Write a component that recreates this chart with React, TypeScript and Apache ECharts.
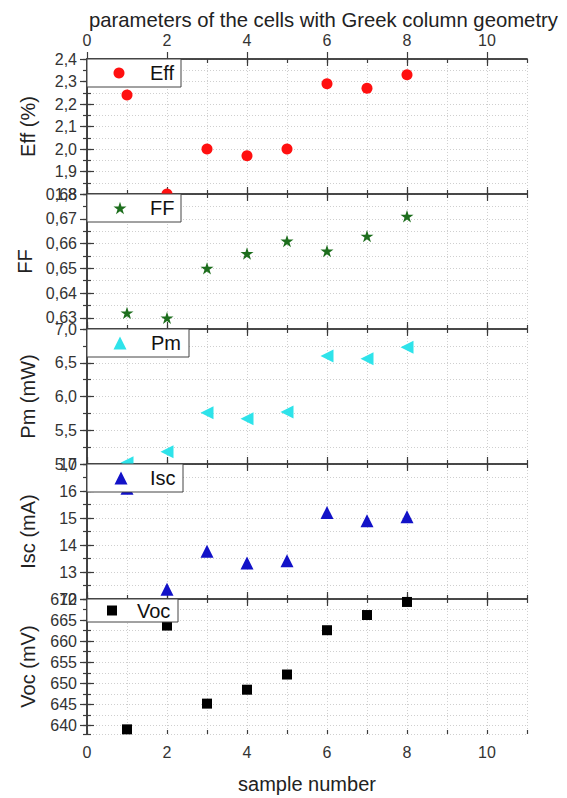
import React, { useEffect, useRef } from "react";
import * as echarts from "echarts";

// ---------- data ----------
const sampleNumbers = [1, 2, 3, 4, 5, 6, 7, 8];
const effValues = [2.24, 1.8, 2.0, 1.97, 2.0, 2.29, 2.27, 2.33];
const ffValues = [0.632, 0.63, 0.65, 0.656, 0.661, 0.657, 0.663, 0.671];
const pmValues = [5.02, 5.18, 5.76, 5.67, 5.77, 6.6, 6.56, 6.73];
const iscValues = [16.1, 12.36, 13.77, 13.33, 13.42, 15.2, 14.9, 15.05];
const vocValues = [639.1, 663.7, 645.2, 648.5, 652.1, 662.6, 666.2, 669.3];

const xTickLabels = [0, 2, 4, 6, 8, 10];
const effTicks = [1.8, 1.9, 2.0, 2.1, 2.2, 2.3, 2.4];
const ffTicks = [0.63, 0.64, 0.65, 0.66, 0.67, 0.68];
const pmTicks = [5.0, 5.5, 6.0, 6.5, 7.0];
const iscTicks = [12, 13, 14, 15, 16, 17];
const vocTicks = [640, 645, 650, 655, 660, 665, 670];

const chartTitle = "parameters of the cells with Greek column geometry";
const xName = "sample number";

// ---------- layout / style ----------
const FONT = "Liberation Sans, Arial, sans-serif";
const STAR =
  "path://M50,0 L61.2,34.5 L97.6,34.5 L68.2,55.9 L79.4,90.5 L50,69.1 L20.6,90.5 L31.8,55.9 L2.4,34.5 L38.8,34.5 Z";
const GRID_LEFT = 87;
const GRID_W = 440;
const TOP0 = 59;
const PANEL_H = 135;
const AXIS_COLOR = "#3c3c3c";
const GRID_COLOR = "#cfcfcf";

const panels = [
  { name: "Eff", axisName: "Eff (%)", values: effValues, ticks: effTicks, min: 1.8, max: 2.4, minor: 0.05, dec: 1,
    color: "#ff1010", symbol: "circle", size: 11, rotate: 0, boxW: 94, boxH: 28, iconX: 119, textX: 150, icon: 11 },
  { name: "FF", axisName: "FF", values: ffValues, ticks: ffTicks, min: 0.6255, max: 0.68, minor: 0.005, dec: 2,
    color: "#1d6e1d", symbol: STAR, size: 13, rotate: 0, boxW: 94, boxH: 28, iconX: 120, textX: 150, icon: 13 },
  { name: "Pm", axisName: "Pm (mW)", values: pmValues, ticks: pmTicks, min: 5.0, max: 7.0, minor: 0.25, dec: 1,
    color: "#2ee3ea", symbol: "triangle", size: 13, rotate: 90, boxW: 102, boxH: 28, iconX: 120, textX: 151, icon: 13 },
  { name: "Isc", axisName: "Isc (mA)", values: iscValues, ticks: iscTicks, min: 12, max: 17, minor: 0.5, dec: 0,
    color: "#1212c8", symbol: "triangle", size: 13, rotate: 0, boxW: 96, boxH: 28, iconX: 121, textX: 150, icon: 13 },
  { name: "Voc", axisName: "Voc (mV)", values: vocValues, ticks: vocTicks, min: 638, max: 670, minor: 2.5, dec: 0,
    color: "#000000", symbol: "rect", size: 10, rotate: 0, boxW: 91, boxH: 23, iconX: 112, textX: 137, icon: 10 },
];

function fmt(v: number, d: number) {
  return v.toFixed(d).replace(".", ",");
}

function buildOption() {
  const option: any = {
    animation: false,
    backgroundColor: "#ffffff",
    title: {
      text: chartTitle,
      left: 84,
      top: 5,
      textStyle: { fontSize: 20.3, fontWeight: "normal", color: "#222", fontFamily: FONT },
    },
    grid: [],
    xAxis: [],
    yAxis: [],
    series: [],
    legend: [],
    graphic: [],
  };
  const last = panels.length - 1;
  panels.forEach((p, i) => {
    const top = TOP0 + i * PANEL_H;
    option.grid.push({ left: GRID_LEFT, top, width: GRID_W, height: PANEL_H, containLabel: false, outerBoundsMode: "none" });
    const axisLine = { show: true, lineStyle: { color: AXIS_COLOR, width: 1.6 } };
    const tickStyle = { color: AXIS_COLOR, width: 1.2 };
    const labelStyle = { fontSize: 16, color: "#333", fontFamily: FONT };
    // x major bottom
    option.xAxis.push({
      gridIndex: i, type: "value", position: "bottom", min: 0, max: 11,
      axisLine,
      axisTick: { show: true, inside: true, length: 7, customValues: xTickLabels, lineStyle: tickStyle },
      axisLabel: { show: i === last, customValues: xTickLabels, margin: 10, ...labelStyle },
      splitLine: { show: false },
      name: i === last ? xName : "",
      nameLocation: "middle",
      nameGap: 40,
      nameTextStyle: { fontSize: 20, color: "#222", fontFamily: FONT },
    });
    // x major top
    option.xAxis.push({
      gridIndex: i, type: "value", position: "top", min: 0, max: 11,
      axisLine,
      axisTick: { show: true, inside: true, length: 7, customValues: xTickLabels, lineStyle: tickStyle },
      axisLabel: { show: i === 0, customValues: xTickLabels, margin: 11, ...labelStyle },
      splitLine: { show: false },
    });
    // x minor bottom (with grid lines)
    option.xAxis.push({
      gridIndex: i, type: "value", position: "bottom", min: 0, max: 11, interval: 1,
      axisLine: { show: false },
      axisTick: { show: true, inside: true, length: 4, lineStyle: tickStyle },
      axisLabel: { show: false },
      splitLine: { show: true, lineStyle: { color: GRID_COLOR, type: [1, 2], width: 1 } },
    });
    // x minor top
    option.xAxis.push({
      gridIndex: i, type: "value", position: "top", min: 0, max: 11, interval: 1,
      axisLine: { show: false },
      axisTick: { show: true, inside: true, length: 4, lineStyle: tickStyle },
      axisLabel: { show: false },
      splitLine: { show: false },
    });

    const range = Math.round((p.max - p.min) * 1e6) / 1e6;
    // y major left
    option.yAxis.push({
      gridIndex: i, type: "value", position: "left", min: p.min, max: p.max,
      axisLine,
      axisTick: { show: true, inside: true, length: 7, customValues: p.ticks, lineStyle: tickStyle },
      axisLabel: { show: true, customValues: p.ticks, margin: 10, formatter: (v: number) => fmt(v, p.dec), ...labelStyle },
      splitLine: { show: false },
      name: p.axisName,
      nameLocation: "middle",
      nameGap: 49,
      nameRotate: 90,
      nameTextStyle: { fontSize: 20, color: "#222", fontFamily: FONT },
    });
    // y major right
    option.yAxis.push({
      gridIndex: i, type: "value", position: "right", min: p.min, max: p.max,
      axisLine,
      axisTick: { show: true, inside: true, length: 7, customValues: p.ticks, lineStyle: tickStyle },
      axisLabel: { show: false },
      splitLine: { show: false },
    });
    // y minor left (counted from the top so ticks align with round values)
    option.yAxis.push({
      gridIndex: i, type: "value", position: "left", min: 0, max: range, interval: p.minor, inverse: true,
      axisLine: { show: false },
      axisTick: { show: true, inside: true, length: 4, lineStyle: tickStyle },
      axisLabel: { show: false },
      splitLine: { show: true, lineStyle: { color: GRID_COLOR, type: [1, 2], width: 1 } },
    });
    // y minor right
    option.yAxis.push({
      gridIndex: i, type: "value", position: "right", min: 0, max: range, interval: p.minor, inverse: true,
      axisLine: { show: false },
      axisTick: { show: true, inside: true, length: 4, lineStyle: tickStyle },
      axisLabel: { show: false },
      splitLine: { show: false },
    });

    option.series.push({
      type: "scatter",
      name: p.name,
      xAxisIndex: 4 * i,
      yAxisIndex: 4 * i,
      data: sampleNumbers.map((x, k) => [x, p.values[k]]),
      symbol: p.symbol,
      symbolSize: p.size,
      symbolRotate: p.rotate,
      symbolKeepAspect: true,
      itemStyle: { color: p.color, opacity: 1 },
      clip: false,
      z: 2,
    });

    option.graphic.push({
      type: "rect",
      z: 3,
      shape: { x: GRID_LEFT, y: top, width: p.boxW, height: p.boxH },
      style: { fill: "#ffffff", stroke: "#444", lineWidth: 1 },
    });

    const iconLeft = p.iconX - p.icon / 2;
    option.legend.push({
      data: [p.name],
      left: iconLeft,
      top: top + p.boxH / 2 - 10,
      padding: 0,
      itemWidth: p.icon,
      itemHeight: p.icon,
      itemGap: 0,
      symbolKeepAspect: true,
      selectedMode: false,
      backgroundColor: "transparent",
      borderWidth: 0,
      z: 5,
      textStyle: {
        fontSize: 20,
        color: "#111",
        fontFamily: FONT,
        padding: [0, 0, 0, Math.max(0, p.textX - (iconLeft + p.icon + 5))],
      },
    });
  });
  return option;
}

export default function App() {
  const ref = useRef<HTMLDivElement>(null);
  useEffect(() => {
    if (!ref.current) return;
    const chart = echarts.init(ref.current, undefined, { renderer: "svg" });
    chart.setOption(buildOption());
    return () => chart.dispose();
  }, []);
  return (
    <div
      ref={ref}
      style={{ position: "absolute", left: 0, top: 0, width: 567, height: 798, background: "#fff" }}
    />
  );
}
